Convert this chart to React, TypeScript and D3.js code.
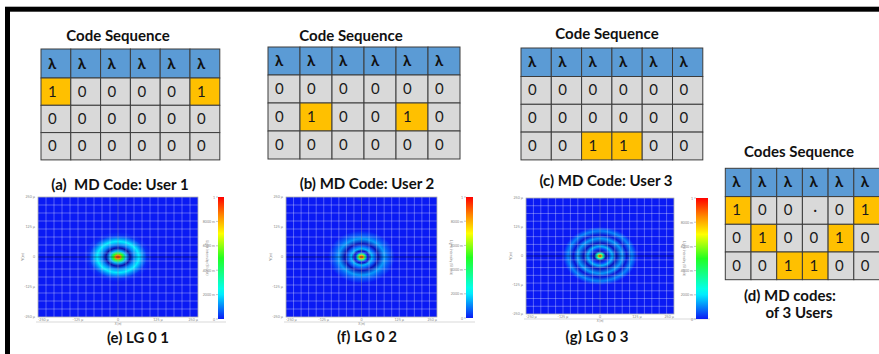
import React from 'react';
import * as d3 from 'd3';

// ---------- data ----------
const headerSymbols = ['λ', 'λ', 'λ', 'λ', 'λ', 'λ'];
const userCode1 = [['1','0','0','0','0','1'],['0','0','0','0','0','0'],['0','0','0','0','0','0']];
const userCode2 = [['0','0','0','0','0','0'],['0','1','0','0','1','0'],['0','0','0','0','0','0']];
const userCode3 = [['0','0','0','0','0','0'],['0','0','0','0','0','0'],['0','0','1','1','0','0']];
const combinedCodes = [['1','0','0','·','0','1'],['0','1','0','0','1','0'],['0','0','1','1','0','0']];
const codeTitles = ['Code Sequence', 'Code Sequence', 'Code Sequence', 'Codes Sequence'];
const codeCaptions = ['(a)  MD Code: User 1', '(b) MD Code: User 2', '(c) MD Code: User 3'];
const combinedCaption = ['(d) MD codes:', 'of 3 Users'];
const modeCaptions = ['(e) LG 0 1', '(f) LG 0 2', '(g) LG 0 3'];

// radial intensity profiles: [radius fraction of half-size, normalised intensity]
const lg01Profile: [number, number][] = [[0,1],[0.03,0.85],[0.06,0.5],[0.1,0.15],[0.15,-0.07],[0.2,0.1],[0.26,0.2],[0.31,0.1],[0.36,0.02],[0.42,0]];
const lg02Profile: [number, number][] = [[0,1],[0.025,0.8],[0.05,0.35],[0.08,0.02],[0.1,-0.05],[0.135,0.15],[0.18,0.06],[0.22,-0.06],[0.3,0.12],[0.36,0.06],[0.44,0]];
const lg03Profile: [number, number][] = [[0,1],[0.02,0.75],[0.045,0.3],[0.08,-0.06],[0.12,0.03],[0.165,0.14],[0.22,-0.05],[0.3,0.12],[0.36,-0.03],[0.43,0.1],[0.5,0]];
const axisTickValues = [250, 125, 0, -125, -250];
const axisTickLabels = ['250 µ', '125 µ', '0', '-125 µ', '-250 µ'];
const colorbarTickValues = [1, 0.8, 0.6, 0.4, 0.2, 0];
const colorbarTickLabels = ['1', '8000 m', '6000 m', '4000 m', '2000 m', '0'];

// ---------- styles ----------
const FONT = "Lato, 'Open Sans', 'DejaVu Sans', sans-serif";
const HEAD = '#5b9bd5';
const GREY = '#d9d9d9';
const ORANGE = '#ffc000';
const LINE = '#3c3c3c';

const jet = d3.scaleLinear<string>()
  .domain([-0.1, 0, 0.22, 0.5, 0.7, 0.85, 1])
  .range(['#0a0a8c', '#0a1af4', '#00ffff', '#22ff22', '#ffff00', '#ff8800', '#ff0000'])
  .interpolate(d3.interpolateRgb)
  .clamp(true);

type TableProps = { x: number; y: number; colW: number; headH: number; rowH: number; rows: string[][]; fs: number };

function CodeTable({ x, y, colW, headH, rowH, rows, fs }: TableProps) {
  const xs = d3.scaleBand<number>().domain(d3.range(headerSymbols.length)).range([x, x + colW * headerSymbols.length]);
  const ys = d3.scaleBand<number>().domain(d3.range(rows.length)).range([y + headH, y + headH + rowH * rows.length]);
  return (
    <g>
      {headerSymbols.map((s, i) => (
        <g key={'h' + i}>
          <rect x={xs(i)} y={y} width={xs.bandwidth()} height={headH} fill={HEAD} stroke={LINE} strokeWidth={1} />
          <text x={(xs(i) as number) + 7} y={y + headH / 2 + 5} fontSize={fs} fontWeight="bold" fontFamily={FONT} fill="#111">{s}</text>
        </g>
      ))}
      {rows.map((r, ri) => r.map((v, ci) => (
        <g key={ri + '-' + ci}>
          <rect x={xs(ci)} y={ys(ri)} width={xs.bandwidth()} height={ys.bandwidth()} fill={v === '1' ? ORANGE : GREY} stroke={LINE} strokeWidth={1} />
          <text x={v === '·' ? (xs(ci) as number) + xs.bandwidth() / 2 : (xs(ci) as number) + 7} y={(ys(ri) as number) + ys.bandwidth() / 2 + 5}
            textAnchor={v === '·' ? 'middle' : 'start'} fontSize={fs} fontFamily={FONT} fill="#1a1a1a">{v}</text>
        </g>
      )))}
    </g>
  );
}

type Box = { x: number; y: number; w: number; h: number };
function Heatmap({ id, plot, cbar, profile }: { id: string; plot: Box; cbar: Box; profile: [number, number][] }) {
  const xS = d3.scaleLinear().domain([-250, 250]).range([plot.x, plot.x + plot.w]);
  const yS = d3.scaleLinear().domain([-250, 250]).range([plot.y + plot.h, plot.y]);
  const cS = d3.scaleLinear().domain([0, 1]).range([cbar.y + cbar.h, cbar.y]);
  const gridX = d3.range(-250, 250.01, 25);
  const gridY = d3.range(-250, 250.01, 500 / 15);
  const gray = '#8a8a8a';
  const cbStops = d3.range(0, 1.001, 0.05);
  const xTicks = axisTickValues.slice().reverse();
  const xLabels = axisTickLabels.slice().reverse();
  return (
    <g>
      <defs>
        <radialGradient id={'rg' + id} cx="0.5" cy="0.5" r="0.5">
          {profile.map(([o, v], i) => <stop key={i} offset={o} stopColor={jet(v)} />)}
        </radialGradient>
        <linearGradient id={'cb' + id} x1="0" y1="1" x2="0" y2="0">
          {cbStops.map((v, i) => <stop key={i} offset={v} stopColor={jet(v)} />)}
        </linearGradient>
      </defs>
      <rect x={plot.x} y={plot.y} width={plot.w} height={plot.h} fill={`url(#rg${id})`} />
      {gridX.map((g, i) => <line key={'gx' + i} x1={xS(g)} x2={xS(g)} y1={plot.y} y2={plot.y + plot.h} stroke="#fff" strokeOpacity={0.4} strokeWidth={0.8} />)}
      {gridY.map((g, i) => <line key={'gy' + i} y1={yS(g)} y2={yS(g)} x1={plot.x} x2={plot.x + plot.w} stroke="#fff" strokeOpacity={0.4} strokeWidth={0.8} />)}
      <line x1={plot.x} x2={plot.x + plot.w} y1={yS(0)} y2={yS(0)} stroke="#000" strokeOpacity={0.4} strokeWidth={1.2} />
      <line x1={xS(0)} x2={xS(0)} y1={plot.y} y2={plot.y + plot.h} stroke="#000" strokeOpacity={0.15} strokeWidth={1} />
      <rect x={plot.x} y={plot.y} width={plot.w} height={plot.h} fill="none" stroke="#9a9a9a" strokeWidth={0.6} />
      {axisTickValues.map((t, i) => (
        <text key={'yt' + i} x={plot.x - 3} y={yS(t) + 1.3} fontSize={3.6} textAnchor="end" fill={gray} fontFamily={FONT}>{axisTickLabels[i]}</text>
      ))}
      {xTicks.map((t, i) => (
        <text key={'xt' + i} x={xS(t)} y={plot.y + plot.h + 3.9} fontSize={3.6}
          textAnchor={i === 0 ? 'start' : i === xTicks.length - 1 ? 'end' : 'middle'} fill={gray} fontFamily={FONT}>{xLabels[i]}</text>
      ))}
      <line x1={plot.x - 2} x2={cbar.x + cbar.w + 2} y1={plot.y + plot.h + 5} y2={plot.y + plot.h + 5} stroke="#c8c8c8" strokeWidth={0.7} />
      <text x={xS(0)} y={plot.y + plot.h + 7.8} fontSize={3} textAnchor="middle" fill={gray} fontFamily={FONT}>X (m)</text>
      <text transform={`translate(${plot.x - 14},${yS(0)}) rotate(-90)`} fontSize={4} textAnchor="middle" fill={gray} fontFamily={FONT}>Y(m)</text>
      <rect x={cbar.x} y={cbar.y} width={cbar.w} height={cbar.h} fill={`url(#cb${id})`} />
      {colorbarTickValues.map((t, i) => (
        <g key={'ct' + i}>
          <text x={cbar.x - 3} y={cS(t) + 1.5} fontSize={3.6} textAnchor="end" fill={gray} fontFamily={FONT}>{colorbarTickLabels[i]}</text>
          <line x1={cbar.x - 2} x2={cbar.x} y1={cS(t)} y2={cS(t)} stroke={gray} strokeWidth={0.5} />
        </g>
      ))}
      <text transform={`translate(${(plot.x + plot.w + cbar.x) / 2 - 2},${cS(0.5)}) rotate(90)`} fontSize={3.6} textAnchor="middle" fill={gray} fontFamily={FONT}>Light intensity (SI unit)</text>
    </g>
  );
}

export default function App() {
  const title = (t: string, x: number, y: number) => (
    <text x={x} y={y} textAnchor="middle" fontSize={15} fontWeight="bold" fontFamily={FONT} fill="#111">{t}</text>
  );
  const caption = (t: string, x: number, y: number) => (
    <text x={x} y={y} textAnchor="middle" fontSize={15} fontWeight="bold" fontFamily={FONT} fill="#111" style={{ whiteSpace: 'pre' }}>{t}</text>
  );
  return (
    <svg width={879} height={354} style={{ position: 'absolute', left: 0, top: 0, background: '#fff' }}>
      <rect x={7.5} y={9.2} width={1000} height={1000} fill="none" stroke="#000" strokeWidth={5} />

      {title(codeTitles[0], 118, 41)}
      <CodeTable x={41} y={49} colW={29.8} headH={29} rowH={27.3} rows={userCode1} fs={15} />
      {caption(codeCaptions[0], 120, 190)}

      {title(codeTitles[1], 351, 40.5)}
      <CodeTable x={268} y={47} colW={32} headH={28} rowH={28} rows={userCode2} fs={15} />
      {caption(codeCaptions[1], 367, 189)}

      {title(codeTitles[2], 607, 39)}
      <CodeTable x={521} y={48} colW={30.3} headH={28.5} rowH={27.8} rows={userCode3} fs={15} />
      {caption(codeCaptions[2], 606, 186)}

      {title(codeTitles[3], 799, 157)}
      <CodeTable x={725.3} y={168.3} colW={25.7} headH={28.3} rowH={27.7} rows={combinedCodes} fs={15} />
      {caption(combinedCaption[0], 790, 301)}
      {caption(combinedCaption[1], 799, 318)}

      <Heatmap id="e" plot={{ x: 38, y: 197, w: 160, h: 120 }} cbar={{ x: 218, y: 197, w: 6, h: 122 }} profile={lg01Profile} />
      <Heatmap id="f" plot={{ x: 286, y: 197, w: 151, h: 120 }} cbar={{ x: 466, y: 197, w: 7, h: 121 }} profile={lg02Profile} />
      <Heatmap id="g" plot={{ x: 526, y: 198, w: 148, h: 116 }} cbar={{ x: 696, y: 198, w: 12, h: 121 }} profile={lg03Profile} />
      {caption(modeCaptions[0], 138, 343)}
      {caption(modeCaptions[1], 367, 342)}
      {caption(modeCaptions[2], 597, 342)}
    </svg>
  );
}
